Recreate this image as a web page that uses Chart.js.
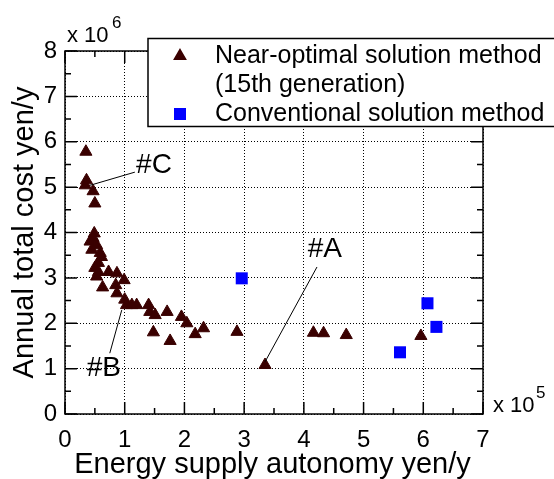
<!doctype html>
<html lang="en">
<head>
<meta charset="utf-8">
<title>Annual total cost vs energy supply autonomy</title>
<script src="https://cdn.jsdelivr.net/npm/chart.js@4/dist/chart.umd.min.js"></script>
<style>
  body { margin: 0; background: #fff; }
  canvas { display: block; }
</style>
</head>
<body>
<canvas id="chart" width="554" height="479"></canvas>
<script>
// values in units of 10^5 yen/y (x) and 10^6 yen/y (y)
var nearOptimal = [
  [0.35, 5.78], [0.36, 5.15], [0.34, 5.04], [0.47, 4.91], [0.50, 4.64],
  [0.49, 3.98], [0.47, 3.88], [0.42, 3.80], [0.53, 3.72], [0.45, 3.62],
  [0.59, 3.55], [0.61, 3.46], [0.56, 3.33], [0.50, 3.22], [0.56, 3.13],
  [0.53, 3.03], [0.73, 3.13], [0.87, 3.10], [0.63, 2.79], [0.99, 2.95],
  [0.85, 2.84], [0.87, 2.66], [1.00, 2.52], [1.03, 2.40], [1.12, 2.40],
  [1.20, 2.40], [1.40, 2.40], [1.42, 2.25], [1.51, 2.18], [1.71, 2.25],
  [1.48, 1.80], [1.76, 1.61], [1.95, 2.14], [2.04, 2.00], [2.18, 1.76],
  [2.32, 1.89], [2.88, 1.81], [3.35, 1.08], [4.16, 1.79], [4.33, 1.78],
  [4.71, 1.74], [5.96, 1.72]
];
var conventional = [[2.96, 2.99], [5.61, 1.36], [6.07, 2.44], [6.22, 1.92]];

var xTicks = [0, 1, 2, 3, 4, 5, 6, 7];
var yTicks = [0, 1, 2, 3, 4, 5, 6, 7, 8];

var legendLines = [["Near-optimal solution method", "(15th generation)"], ["Conventional solution method"]];

// callouts: label text, label position, leader line ends (data units)
var calloutText = ["#A", "#B", "#C"];
var calloutAt = [[4.35, 3.63], [0.65, 1.01], [1.49, 5.48]];
var calloutLine = [
  [[4.22, 3.24], [3.35, 1.15]],
  [[0.75, 1.34], [0.95, 2.29]],
  [[1.17, 5.33], [0.42, 5.04]]
];

var FONT = "'Liberation Sans', Arial, sans-serif";
var BROWN = "#3a0000";
var BLUE = "#0000ff";

function toPoints(arr) {
  return arr.map(function (p) { return { x: p[0], y: p[1] }; });
}

var datasets = calloutLine.map(function (seg) {
  return {
    type: "scatter",
    data: toPoints(seg),
    showLine: true,
    borderColor: "#000",
    borderWidth: 1,
    pointRadius: 0
  };
});
datasets.push({
  label: legendLines[0].join(" "),
  data: toPoints(nearOptimal),
  pointStyle: "triangle",
  pointRadius: 7,
  backgroundColor: BROWN,
  borderColor: BROWN,
  borderWidth: 1
});
datasets.push({
  label: legendLines[1].join(" "),
  data: toPoints(conventional),
  pointStyle: "rect",
  pointRadius: 8.5,
  backgroundColor: BLUE,
  borderColor: BLUE,
  borderWidth: 0
});

var framePlugin = {
  id: "frame",
  afterDraw: function (chart) {
    var ctx = chart.ctx, a = chart.chartArea;
    var xs = chart.scales.x, ys = chart.scales.y;
    var v, p, len;
    ctx.save();
    ctx.strokeStyle = "#000";
    ctx.lineWidth = 1.5;
    ctx.strokeRect(a.left, a.top, a.right - a.left, a.bottom - a.top);

    // inward major and minor ticks on all four sides
    ctx.beginPath();
    for (v = 0; v <= 7; v += 0.5) {
      p = xs.getPixelForValue(v);
      len = v % 1 === 0 ? 12 : 6;
      ctx.moveTo(p, a.bottom); ctx.lineTo(p, a.bottom - len);
      ctx.moveTo(p, a.top); ctx.lineTo(p, a.top + len);
    }
    for (v = 0; v <= 8; v += 0.5) {
      p = ys.getPixelForValue(v);
      len = v % 1 === 0 ? 12 : 6;
      ctx.moveTo(a.left, p); ctx.lineTo(a.left + len, p);
      ctx.moveTo(a.right, p); ctx.lineTo(a.right - len, p);
    }
    ctx.stroke();

    ctx.fillStyle = "#000";
    // callout labels
    ctx.font = "28px " + FONT;
    ctx.textAlign = "center";
    ctx.textBaseline = "middle";
    calloutText.forEach(function (t, i) {
      ctx.fillText(t, xs.getPixelForValue(calloutAt[i][0]), ys.getPixelForValue(calloutAt[i][1]));
    });

    // axis titles
    ctx.font = "29px " + FONT;
    ctx.textBaseline = "alphabetic";
    ctx.fillText("Energy supply autonomy yen/y", 272.5, 473);
    ctx.save();
    ctx.translate(33, (a.top + a.bottom) / 2);
    ctx.rotate(-Math.PI / 2);
    ctx.fillText("Annual total cost yen/y", 0, 0);
    ctx.restore();

    // exponent notes
    ctx.textAlign = "left";
    ctx.font = "22px " + FONT;
    ctx.fillText("x 10", 67, 42);
    ctx.fillText("x 10", 493, 412);
    ctx.font = "17px " + FONT;
    ctx.fillText("6", 112, 28);
    ctx.fillText("5", 536, 398);

    // legend
    ctx.fillStyle = "#fff";
    ctx.fillRect(148, 38.5, 420, 88);
    ctx.lineWidth = 1.5;
    ctx.strokeRect(148, 38.5, 420, 88);
    ctx.fillStyle = "#000";
    ctx.font = "25px " + FONT;
    ctx.fillText(legendLines[0][0], 215, 63.3);
    ctx.fillText(legendLines[0][1], 215, 92);
    ctx.fillText(legendLines[1][0], 215, 120.7);
    var d0 = chart.data.datasets[chart.data.datasets.length - 2];
    var d1 = chart.data.datasets[chart.data.datasets.length - 1];
    ctx.fillStyle = d0.backgroundColor; ctx.strokeStyle = d0.borderColor;
    Chart.helpers.drawPoint(ctx, { pointStyle: "triangle", radius: 6.5, borderWidth: 1, rotation: 0 }, 180, 56);
    ctx.fillStyle = d1.backgroundColor; ctx.strokeStyle = d1.borderColor;
    Chart.helpers.drawPoint(ctx, { pointStyle: "rect", radius: d1.pointRadius, borderWidth: 0, rotation: 0 }, 180, 114);
    ctx.restore();
  }
};

new Chart(document.getElementById("chart"), {
  type: "scatter",
  data: { datasets: datasets },
  options: {
    responsive: false,
    animation: false,
    layout: { padding: { top: 51, right: 71, left: 0, bottom: 0 } },
    plugins: { legend: { display: false }, tooltip: { enabled: false } },
    scales: {
      x: {
        min: 0, max: 7,
        afterFit: function (s) { s.height = 65; },
        afterBuildTicks: function (s) { s.ticks = xTicks.map(function (v) { return { value: v }; }); },
        grid: { color: "#000", lineWidth: 1, drawTicks: false },
        border: { display: false, dash: [1, 2] },
        ticks: { padding: 12, color: "#000", font: { family: FONT, size: 24 } }
      },
      y: {
        min: 0, max: 8,
        afterFit: function (s) { s.width = 65; },
        afterBuildTicks: function (s) { s.ticks = yTicks.map(function (v) { return { value: v }; }); },
        grid: { color: "#000", lineWidth: 1, drawTicks: false },
        border: { display: false, dash: [1, 2] },
        ticks: { padding: 8, color: "#000", font: { family: FONT, size: 24 } }
      }
    }
  },
  plugins: [framePlugin]
});
</script>
</body>
</html>
